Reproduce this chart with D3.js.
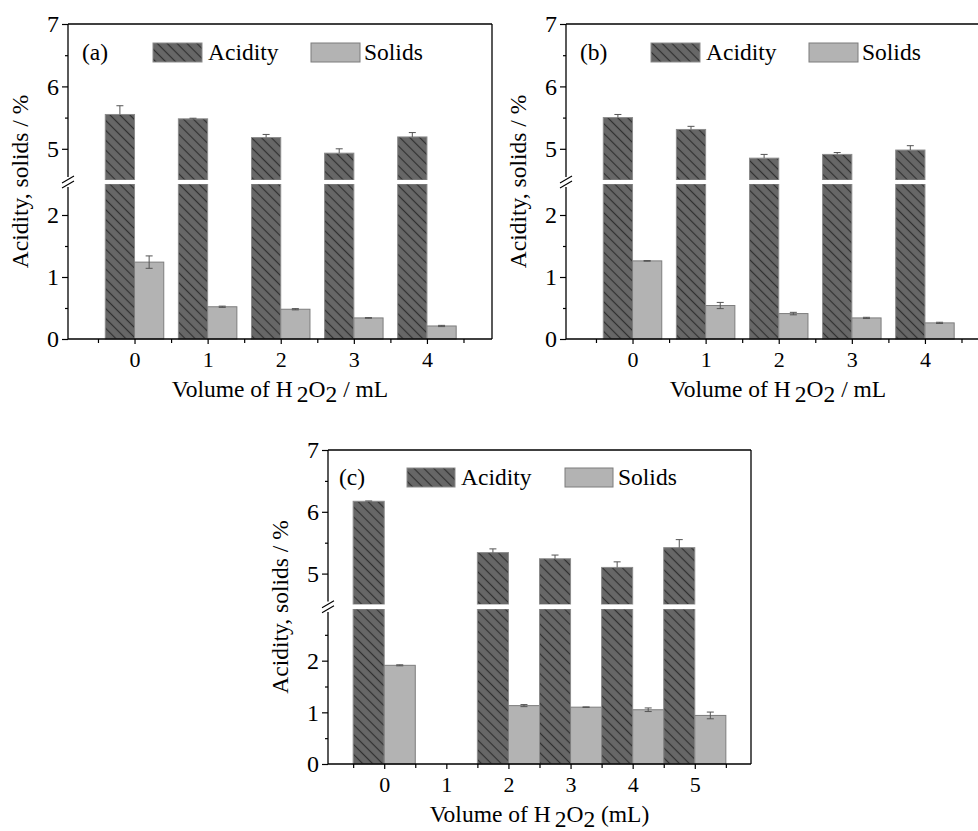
<!DOCTYPE html>
<html lang="en">
<head>
<meta charset="UTF-8">
<script src="https://cdn.jsdelivr.net/npm/d3@7"></script>
<title>Acidity and solids vs H2O2 volume</title>
<style>
  body { margin: 0; background: #fff; }
  text { font-family: "Liberation Serif", "Times New Roman", serif; fill: #000; }
</style>
</head>
<body>
<svg id="chart" width="978" height="831"></svg>
<script>
// values
const volumesAB = [0, 1, 2, 3, 4];
const volumesC = [0, 1, 2, 3, 4, 5];

const acidityA = [5.55, 5.48, 5.18, 4.93, 5.19];
const acidityErrA = [0.14, 0.01, 0.05, 0.07, 0.07];
const solidsA = [1.24, 0.52, 0.48, 0.34, 0.21];
const solidsErrA = [0.10, 0.01, 0.01, 0.005, 0.01];

const acidityB = [5.50, 5.31, 4.85, 4.91, 4.98];
const acidityErrB = [0.05, 0.05, 0.06, 0.03, 0.07];
const solidsB = [1.26, 0.54, 0.41, 0.34, 0.26];
const solidsErrB = [0.005, 0.05, 0.02, 0.01, 0.01];

// no sample at 1 mL in (c)
const acidityC = [6.17, null, 5.34, 5.24, 5.10, 5.42];
const acidityErrC = [0.005, null, 0.06, 0.06, 0.09, 0.13];
const solidsC = [1.91, null, 1.13, 1.10, 1.05, 0.94];
const solidsErrC = [0.01, null, 0.02, 0.005, 0.035, 0.065];

const seriesNames = ["Acidity", "Solids"];
const upperMajor = [5, 6, 7];
const upperMinor = [5.5, 6.5];
const lowerMajor = [0, 1, 2];
const lowerMinorAB = [0.5, 1.5];
const lowerMinorC = [0.5, 1.5, 2.5];

let svg = d3.select("#chart");

// hatch for the acidity bars
let defs = svg.append("defs");
let pat = defs.append("pattern")
  .attr("id", "hatch")
  .attr("patternUnits", "userSpaceOnUse")
  .attr("width", 7).attr("height", 7)
  .attr("patternTransform", "rotate(45)");
pat.append("rect").attr("width", 7).attr("height", 7).attr("fill", "#676767");
pat.append("line").attr("x1", 0).attr("y1", 3.5).attr("x2", 7).attr("y2", 3.5)
  .attr("stroke", "#303030").attr("stroke-width", 1.2);

const panels = [
  { tag: "(a)", left: 68, right: 492, top: 24, bottom: 339, gapTop: 180, gapBottom: 184,
    lowMax: 2.5, xDomain: [-0.91, 4.89], barW: 0.4, cats: volumesAB,
    acid: acidityA, acidErr: acidityErrA, sol: solidsA, solErr: solidsErrA,
    lowMinor: lowerMinorAB, unit: " / mL",
    leg: { tag: 14, box1: 85, text1: 140, box2: 243, text2: 296, boxW: 49, y: 19 } },
  { tag: "(b)", left: 566, right: 990, top: 24, bottom: 339, gapTop: 180, gapBottom: 184,
    lowMax: 2.5, xDomain: [-0.91, 4.89], barW: 0.4, cats: volumesAB,
    acid: acidityB, acidErr: acidityErrB, sol: solidsB, solErr: solidsErrB,
    lowMinor: lowerMinorAB, unit: " / mL",
    leg: { tag: 14, box1: 85, text1: 140, box2: 243, text2: 296, boxW: 49, y: 19 } },
  { tag: "(c)", left: 328, right: 751, top: 450, bottom: 764, gapTop: 604.5, gapBottom: 609,
    lowMax: 3, xDomain: [-0.905, 5.905], barW: 0.5, cats: volumesC,
    acid: acidityC, acidErr: acidityErrC, sol: solidsC, solErr: solidsErrC,
    lowMinor: lowerMinorC, unit: " (mL)",
    leg: { tag: 11, box1: 79, text1: 133, box2: 237, text2: 290, boxW: 48, y: 18 } }
];

panels.forEach(p => drawPanel(p));

function drawPanel(p) {
  let g = svg.append("g");

  let x = d3.scaleLinear().domain(p.xDomain).range([p.left, p.right]);
  let yLow = d3.scaleLinear().domain([0, p.lowMax]).range([p.bottom, p.gapBottom]);
  let yHigh = d3.scaleLinear().domain([4.5, 7]).range([p.gapTop, p.top]);
  let yOf = v => v > p.lowMax ? yHigh(v) : yLow(v);

  // split a bar into the part below and above the break
  function pieces(v) {
    if (v <= p.lowMax) return [[yLow(0), yLow(v)]];
    return [[yLow(0), yLow(p.lowMax)], [yHigh(4.5), yHigh(v)]];
  }

  let rows = p.cats.map((c, i) => ({ c: c, acid: p.acid[i], acidErr: p.acidErr[i],
                                     sol: p.sol[i], solErr: p.solErr[i] }))
                   .filter(d => d.acid != null);

  // acidity left of the tick, solids right of it
  rows.forEach(d => {
    pieces(d.acid).forEach(s => {
      g.append("rect")
        .attr("x", x(d.c - p.barW)).attr("width", x(d.c) - x(d.c - p.barW))
        .attr("y", s[1]).attr("height", s[0] - s[1])
        .attr("fill", "url(#hatch)").attr("stroke", "#8c8c8c").attr("stroke-width", 1);
    });
    pieces(d.sol).forEach(s => {
      g.append("rect")
        .attr("x", x(d.c)).attr("width", x(d.c + p.barW) - x(d.c))
        .attr("y", s[1]).attr("height", s[0] - s[1])
        .attr("fill", "#b3b3b3").attr("stroke", "#7d7d7d").attr("stroke-width", 1);
    });
  });

  // error bars
  rows.forEach(d => {
    let xa = x(d.c - p.barW / 2), xs = x(d.c + p.barW / 2);
    let ya = yOf(d.acid + d.acidErr);
    g.append("line").attr("x1", xa).attr("x2", xa).attr("y1", yOf(d.acid)).attr("y2", ya)
      .attr("stroke", "#555").attr("stroke-width", 1);
    g.append("line").attr("x1", xa - 3.5).attr("x2", xa + 3.5).attr("y1", ya).attr("y2", ya)
      .attr("stroke", "#555").attr("stroke-width", 1);
    let s0 = yOf(d.sol - d.solErr), s1 = yOf(d.sol + d.solErr);
    g.append("line").attr("x1", xs).attr("x2", xs).attr("y1", s0).attr("y2", s1)
      .attr("stroke", "#555").attr("stroke-width", 1);
    [s0, s1].forEach(yy => {
      g.append("line").attr("x1", xs - 3.5).attr("x2", xs + 3.5).attr("y1", yy).attr("y2", yy)
        .attr("stroke", "#555").attr("stroke-width", 1);
    });
  });

  // white gap across the bars at the break
  g.append("rect").attr("x", p.left + 1).attr("width", p.right - p.left - 2)
    .attr("y", p.gapTop).attr("height", p.gapBottom - p.gapTop).attr("fill", "#fff");

  // frame
  let frame = [
    [p.left, p.top, p.right, p.top],
    [p.right, p.top, p.right, p.bottom],
    [p.left, p.bottom, p.right, p.bottom],
    [p.left, p.top, p.left, p.gapTop - 3],
    [p.left, p.gapBottom + 3, p.left, p.bottom]
  ];
  frame.forEach(f => {
    g.append("line").attr("x1", f[0]).attr("y1", f[1]).attr("x2", f[2]).attr("y2", f[3])
      .attr("stroke", "#000").attr("stroke-width", 1.3);
  });

  // break marks //
  let mid = (p.gapTop + p.gapBottom) / 2;
  [-2.5, 2.5].forEach(o => {
    g.append("line")
      .attr("x1", p.left - 6).attr("y1", mid + o + 3.5)
      .attr("x2", p.left + 6).attr("y2", mid + o - 3.5)
      .attr("stroke", "#000").attr("stroke-width", 1.1);
  });

  // y axes
  function yAxis(scale, major, minor) {
    let a = g.append("g").attr("transform", `translate(${p.left},0)`)
      .call(d3.axisLeft(scale).tickValues(major).tickSize(6).tickPadding(3).tickFormat(d3.format("d")));
    a.select(".domain").remove();
    a.selectAll("text").style("font-size", "24px").attr("fill", "#000");
    a.selectAll("line").attr("stroke-width", 1.2);
    let m = g.append("g").attr("transform", `translate(${p.left},0)`)
      .call(d3.axisLeft(scale).tickValues(minor).tickSize(3).tickFormat(""));
    m.select(".domain").remove();
    m.selectAll("line").attr("stroke-width", 1.2);
  }
  yAxis(yHigh, upperMajor, upperMinor);
  yAxis(yLow, lowerMajor, p.lowMinor);

  // x axis, minor ticks between the categories
  let xa = g.append("g").attr("transform", `translate(0,${p.bottom})`)
    .call(d3.axisBottom(x).tickValues(p.cats).tickSize(5).tickPadding(7).tickFormat(d3.format("d")));
  xa.select(".domain").remove();
  xa.selectAll("text").style("font-size", "22px").attr("fill", "#000");
  xa.selectAll("line").attr("stroke-width", 1.2);
  let halfTicks = p.cats.map(c => c - 0.5).concat([p.cats[p.cats.length - 1] + 0.5]);
  let xm = g.append("g").attr("transform", `translate(0,${p.bottom})`)
    .call(d3.axisBottom(x).tickValues(halfTicks).tickSize(4).tickFormat(""));
  xm.select(".domain").remove();
  xm.selectAll("line").attr("stroke-width", 1.2);

  // axis titles
  let xt = g.append("text")
    .attr("x", (p.left + p.right) / 2)
    .attr("y", p.bottom + 58)
    .attr("text-anchor", "middle")
    .style("font-size", "23.5px");
  xt.append("tspan").text("Volume of H");
  xt.append("tspan").attr("dx", 4).attr("dy", 5).text("2");
  xt.append("tspan").attr("dy", -5).text("O");
  xt.append("tspan").attr("dy", 5).text("2");
  xt.append("tspan").attr("dy", -5).text(p.unit);

  g.append("text")
    .attr("transform", `translate(${p.left - 40},${(p.top + p.bottom) / 2}) rotate(-90)`)
    .attr("text-anchor", "middle")
    .style("font-size", "23.5px")
    .text("Acidity, solids / %");

  // legend
  let ly = p.top + p.leg.y;
  g.append("text").attr("x", p.left + p.leg.tag).attr("y", ly + 17)
    .style("font-size", "23.5px").text(p.tag);
  g.append("rect").attr("x", p.left + p.leg.box1).attr("y", ly)
    .attr("width", p.leg.boxW).attr("height", 19)
    .attr("fill", "url(#hatch)").attr("stroke", "#8c8c8c");
  g.append("text").attr("x", p.left + p.leg.text1).attr("y", ly + 17)
    .style("font-size", "23.5px").text(seriesNames[0]);
  g.append("rect").attr("x", p.left + p.leg.box2).attr("y", ly)
    .attr("width", p.leg.boxW).attr("height", 19)
    .attr("fill", "#b3b3b3").attr("stroke", "#7d7d7d");
  g.append("text").attr("x", p.left + p.leg.text2).attr("y", ly + 17)
    .style("font-size", "23.5px").text(seriesNames[1]);
}
</script>
</body>
</html>
